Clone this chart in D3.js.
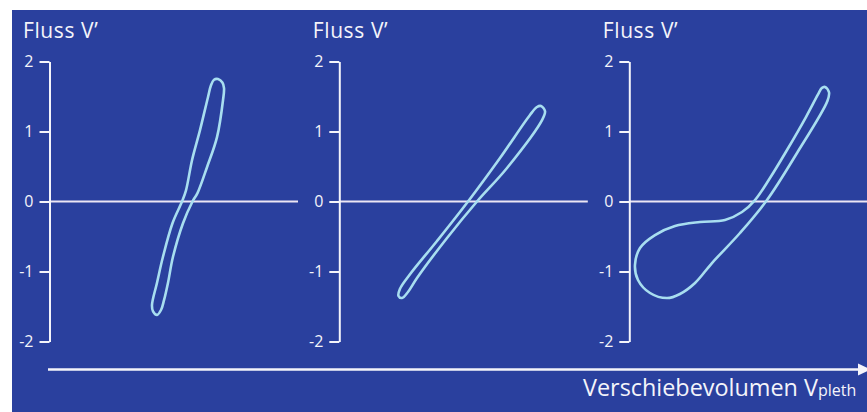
<!DOCTYPE html>
<html>
<head>
<meta charset="utf-8">
<script src="https://cdn.jsdelivr.net/npm/d3@7/dist/d3.min.js"></script>
<style>
  html, body { margin: 0; padding: 0; background: #ffffff; }
  svg { display: block; }
  text { font-family: "Open Sans", "Noto Sans", sans-serif; fill: #f4f4fa; }
</style>
</head>
<body>
<svg id="chart" width="867" height="412"></svg>
<script>
// Flow (V') against shift volume (V_pleth) loops, three panels
const yTicks = [-2, -1, 0, 1, 2];
const yTitle = "Fluss V\u2019";
const xTitle = "Verschiebevolumen V";
const xTitleSub = "pleth";

// Loop traces [volume, flow]
const loopSteep = [
  [2.407, 1.75], [2.47, 1.70], [2.493, 1.62], [2.479, 1.45], [2.393, 0.92], [2.25, 0.49],
  [2.114, 0.12], [2.043, 0.0], [1.907, -0.31], [1.764, -0.79], [1.693, -1.16],
  [1.636, -1.41], [1.593, -1.55], [1.536, -1.62], [1.479, -1.57], [1.464, -1.48],
  [1.536, -1.16], [1.621, -0.79], [1.757, -0.31], [1.893, 0.0], [1.950, 0.16],
  [2.036, 0.59], [2.15, 1.02], [2.264, 1.49], [2.307, 1.66], [2.35, 1.74]
];
const loopNormal = [
  [2.881, 1.364], [2.939, 1.29], [2.90, 1.17], [2.396, 0.479], [1.967, 0.0],
  [1.539, -0.521], [1.110, -1.093], [0.981, -1.293], [0.896, -1.379], [0.846, -1.35],
  [0.866, -1.25], [1.010, -1.040], [1.396, -0.564], [1.839, 0.0], [2.296, 0.621],
  [2.724, 1.236], [2.824, 1.350]
];
const loopObstructive = [
  [2.796, 1.636], [2.853, 1.56], [2.830, 1.436], [2.396, 0.693], [1.967, 0.021],
  [1.581, -0.450], [1.181, -0.879], [0.939, -1.164], [0.724, -1.321], [0.539, -1.379],
  [0.296, -1.307], [0.124, -1.121], [0.081, -0.907], [0.153, -0.664], [0.367, -0.479],
  [0.653, -0.350], [1.010, -0.293], [1.367, -0.264], [1.610, -0.150], [1.796, 0.021],
  [2.010, 0.336], [2.253, 0.736], [2.524, 1.207], [2.696, 1.530], [2.75, 1.62]
];
const loops = [loopSteep, loopNormal, loopObstructive];

const W = 867, H = 412;
const svg = d3.select("#chart");

// blue plate
svg.append("rect").attr("x", 12).attr("y", 10)
  .attr("width", W - 12).attr("height", H - 10).attr("fill", "#2a409e");

const panelLeft = [49.5, 339.3, 629.3];
const unit = 70;
const xMax = 3.55;
const y = d3.scaleLinear().domain([-2, 2]).range([341.5, 61.5]);

const lineGen = d3.line().curve(d3.curveCatmullRomClosed.alpha(0.5));

panelLeft.forEach((left, i) => {
  const x = d3.scaleLinear().domain([0, xMax]).range([left, left + xMax * unit]);
  const g = svg.append("g");

  // zero flow line
  g.append("line")
    .attr("x1", x(0)).attr("x2", Math.min(x(xMax), W))
    .attr("y1", y(0)).attr("y2", y(0))
    .attr("stroke", "#ece6f4").attr("stroke-width", 2);

  // flow axis
  const ax = g.append("g")
    .attr("transform", `translate(${x(0)},0)`)
    .call(d3.axisLeft(y).tickValues(yTicks).tickSize(10).tickSizeOuter(0).tickPadding(6)
      .tickFormat(d => String(d)));
  ax.select(".domain").attr("stroke", "#f4f4fa").attr("stroke-width", 2);
  ax.selectAll(".tick line").attr("stroke", "#f4f4fa").attr("stroke-width", 2);
  ax.selectAll(".tick text")
    .attr("fill", "#f4f4fa").attr("font-size", 16)
    .attr("font-family", "'Open Sans', 'Noto Sans', sans-serif");

  // panel title
  g.append("text")
    .attr("x", x(0) - 26.5).attr("y", 38)
    .attr("font-size", 21)
    .attr("letter-spacing", 0.6)
    .text(yTitle);

  // loop
  g.append("path")
    .attr("d", lineGen(loops[i].map(p => [x(p[0]), y(p[1])])))
    .attr("fill", "none")
    .attr("stroke", "#a8def0")
    .attr("stroke-width", 2.6)
    .attr("stroke-linejoin", "round");
});

// volume axis arrow
const arrowY = 369.5;
svg.append("line")
  .attr("x1", 48).attr("x2", 860)
  .attr("y1", arrowY).attr("y2", arrowY)
  .attr("stroke", "#f4f4fa").attr("stroke-width", 2.5);
svg.append("path")
  .attr("d", `M858,${arrowY - 6}L871,${arrowY}L858,${arrowY + 6}Z`)
  .attr("fill", "#f4f4fa");

const xt = svg.append("text")
  .attr("x", 583).attr("y", 396)
  .attr("font-size", 23.4);
xt.append("tspan").text(xTitle);
xt.append("tspan").attr("font-size", 16).text(xTitleSub);
</script>
</body>
</html>
